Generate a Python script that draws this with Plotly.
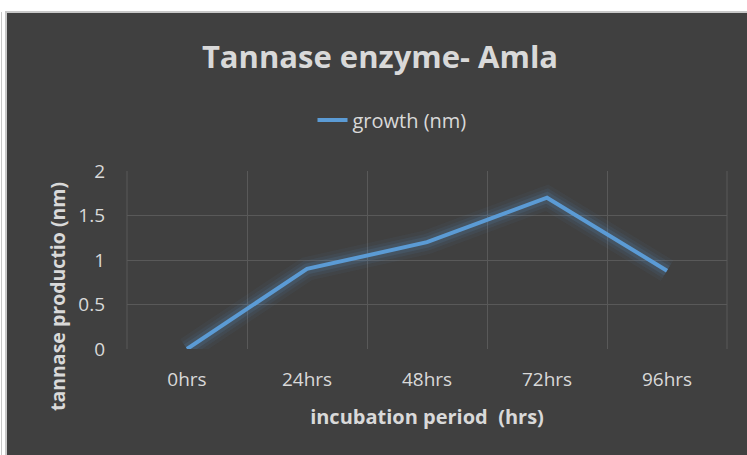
import plotly.graph_objects as go

categories = ["0hrs", "24hrs", "48hrs", "72hrs", "96hrs"]
growth = [0, 0.9, 1.2, 1.7, 0.88]
y_ticks = [0, 0.5, 1, 1.5, 2]
y_ticktext = ["0", "0.5", "1", "1.5", "2"]

W, H = 747, 455
L, R, T, B = 127, 20, 171, 106
pw, ph = W - L - R, H - T - B

def px(x):
    return (x - L) / pw

def py(y):
    return (H - B - y) / ph

FONT = "Open Sans"
TXT = "#d9d9d9"
BLUE = "#5b9bd5"
GRID = "#595959"

fig = go.Figure()
# glow layers
for w, a in [(24, 0.05), (17, 0.08), (11, 0.12)]:
    fig.add_trace(go.Scatter(x=categories, y=growth, mode="lines",
                             line=dict(color=f"rgba(91,155,213,{a})", width=w),
                             showlegend=False, hoverinfo="skip"))
fig.add_trace(go.Scatter(x=categories, y=growth, mode="lines", name="growth (nm)",
                         line=dict(color=BLUE, width=4)))

fig.update_layout(
    width=W, height=H,
    margin=dict(l=L, r=R, t=T, b=B),
    paper_bgcolor="white",
    plot_bgcolor="#404040",
    font=dict(family=FONT, color=TXT, size=19),
    title=dict(text="<b>Tannase enzyme- Amla</b>", xref="paper", x=px(380), xanchor="center",
               y=1 - 57 / H, yanchor="middle",
               font=dict(size=31, color=TXT, family=FONT)),
    legend=dict(orientation="h", x=px(392), xanchor="center", y=py(120), yanchor="middle",
                font=dict(size=20, color=TXT), bgcolor="rgba(0,0,0,0)"),
    xaxis=dict(type="category", tickson="boundaries", showgrid=True, gridcolor=GRID,
               gridwidth=1, zeroline=False, showline=False, ticks="",
               ticklabelstandoff=17, tickfont=dict(size=19, color=TXT),
               range=[-0.5, 4.5],
               title=dict(text="<b>incubation period  (hrs)</b>", standoff=18,
                          font=dict(size=20, color=TXT))),
    yaxis=dict(range=[0, 2], tickvals=y_ticks, ticktext=y_ticktext, showgrid=True,
               gridcolor=GRID, gridwidth=1, zeroline=False, showline=False, ticks="",
               ticklabelstandoff=21, tickfont=dict(size=19, color=TXT)),
    annotations=[
        dict(text="<b>tannase productio (nm)</b>", xref="paper", yref="paper",
             x=px(57), y=py(297), xanchor="center", yanchor="middle", textangle=-90,
             showarrow=False, font=dict(size=19.5, color=TXT, family=FONT)),
    ],
    shapes=[
        dict(type="rect", xref="paper", yref="paper", layer="below",
             x0=px(6), x1=px(W + 5), y0=py(H + 5), y1=py(12),
             fillcolor="#404040", line=dict(color="#c8c8c8", width=2)),
        dict(type="line", xref="paper", yref="paper", layer="below",
             x0=px(1.5), x1=px(1.5), y0=py(H + 5), y1=py(12),
             line=dict(color="#c8c8c8", width=1)),
        dict(type="line", xref="paper", yref="paper", layer="below",
             x0=0, x1=0, y0=0, y1=1, line=dict(color=GRID, width=1)),
        dict(type="line", xref="paper", yref="paper", layer="below",
             x0=1, x1=1, y0=0, y1=1, line=dict(color=GRID, width=1)),
    ],
)

fig.write_html("out.html", config={"displayModeBar": False},
               post_script="document.body.style.margin='0';")
